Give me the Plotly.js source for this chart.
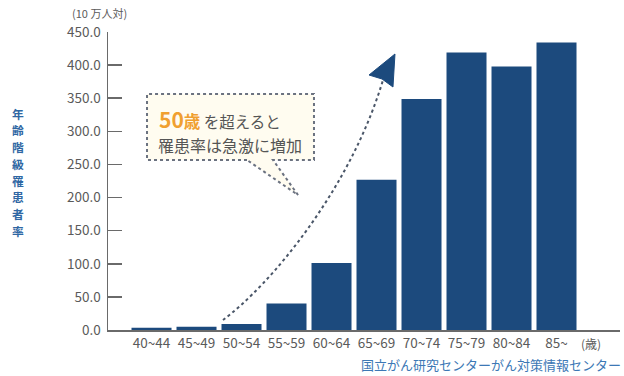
<!DOCTYPE html>
<html>
<head>
<meta charset="utf-8">
<script src="https://cdn.plot.ly/plotly-3.0.1.min.js"></script>
<style>html,body{margin:0;padding:0;background:#fff;}#chart{width:624px;height:376px;}</style>
</head>
<body>
<div id="chart"></div>
<script>
// Data
const categories = ['40~44','45~49','50~54','55~59','60~64','65~69','70~74','75~79','80~84','85~'];
const rates = [3.5, 5, 9, 40, 101, 227, 349, 419, 398, 434];
const yTickVals = [0, 50, 100, 150, 200, 250, 300, 350, 400, 450];
const yTickText = ['0.0','50.0','100.0','150.0','200.0','250.0','300.0','350.0','400.0','450.0'];
const yTitleChars = ['年','齢','階','級','罹','患','者','率'];

// Layout helpers (pixel -> paper)
const L = 108, R = 620, T = 32, B = 330;
const px = x => (x - L) / (R - L);
const py = y => (B - y) / (B - T);
const P = (x, y) => px(x).toFixed(4) + ',' + py(y).toFixed(4);

const JP = '"Noto Sans CJK JP", "Noto Sans", sans-serif';
const grey = '#5a5a5a';

const trace = {
  type: 'bar',
  x: categories,
  y: rates,
  marker: {color: '#1c4a7d'},
  hoverinfo: 'skip'
};

const boxPath = 'M' + P(247,160) + ' L' + P(147,160) + ' L' + P(147,94) + ' L' + P(314,94) +
  ' L' + P(314,160) + ' L' + P(273,160) + ' L' + P(298,195) + ' Z';
const curvePath = 'M' + P(223,320) + ' C' + P(270,285) + ' ' + P(350,190) + ' ' + P(383,80);
const headPath = 'M' + P(395,54) + ' L' + P(369,75) + ' L' + P(382,79) + ' L' + P(393,87) + ' Z';

const annotations = [
  {xref: 'paper', yref: 'paper', x: px(99), y: py(13), xanchor: 'center', yanchor: 'middle', borderpad: 0,
   text: '(10 万人対)', showarrow: false, font: {family: JP, size: 11, color: grey}},
  {xref: 'paper', yref: 'paper', x: px(158), y: py(118.5), xanchor: 'left', yanchor: 'middle', borderpad: 0,
   text: '<span style="font-size:21px;color:#f0a030;font-weight:bold">50</span><span style="font-size:16.5px;color:#f0a030;font-weight:bold">歳</span><span style="font-size:15.5px"> を超えると</span>',
   showarrow: false, font: {family: JP, size: 15.5, color: '#555'}},
  {xref: 'paper', yref: 'paper', x: px(157), y: py(145), xanchor: 'left', yanchor: 'middle', borderpad: 0,
   text: '罹患率は急激に増加', showarrow: false, font: {family: JP, size: 16, color: '#555'}},
  {xref: 'paper', yref: 'paper', x: px(591), y: py(343), xanchor: 'center', yanchor: 'middle', borderpad: 0,
   text: '(歳)', showarrow: false, font: {family: JP, size: 12, color: grey}},
  {xref: 'paper', yref: 'paper', x: px(622), y: py(364), xanchor: 'right', yanchor: 'middle', borderpad: 0,
   text: '国立がん研究センターがん対策情報センター', showarrow: false,
   font: {family: JP, size: 13.0, color: '#3d78b5'}}
];
yTitleChars.forEach((c, i) => {
  annotations.push({xref: 'paper', yref: 'paper', x: px(18), y: py(113 + i * 16.8),
    xanchor: 'center', yanchor: 'middle', borderpad: 0, text: c, showarrow: false,
    font: {family: JP, size: 11.8, color: '#2f67a3', weight: 'bold'}});
});

const layout = {
  width: 624, height: 376,
  margin: {l: L, r: 624 - R, t: T, b: 376 - B},
  paper_bgcolor: '#fff', plot_bgcolor: '#fff',
  showlegend: false,
  bargap: 0.111,
  font: {family: JP, color: grey},
  xaxis: {
    type: 'category',
    range: [-0.967, 10.411],
    showline: true, linecolor: '#6a6a6a', linewidth: 1.5,
    ticks: '', showgrid: false, zeroline: false,
    tickfont: {family: JP, size: 13.5, color: grey},
    fixedrange: true
  },
  yaxis: {
    range: [0, 450],
    tickvals: yTickVals, ticktext: yTickText,
    ticks: 'inside', ticklen: 14, tickcolor: '#6a6a6a', tickwidth: 1.5,
    showline: true, linecolor: '#6a6a6a', linewidth: 1.5,
    showgrid: false, zeroline: false,
    ticklabelstandoff: 3,
    tickfont: {family: JP, size: 13.5, color: grey},
    fixedrange: true
  },
  shapes: [
    {type: 'path', xref: 'paper', yref: 'paper', path: boxPath,
     fillcolor: '#fffcf0', line: {color: '#6b7280', width: 2, dash: 'dot'}, layer: 'above'},
    {type: 'path', xref: 'paper', yref: 'paper', path: curvePath,
     line: {color: '#4a5668', width: 2, dash: 'dot'}, layer: 'above'},
    {type: 'path', xref: 'paper', yref: 'paper', path: headPath,
     fillcolor: '#1c4a7d', line: {color: '#1c4a7d', width: 1}, layer: 'above'}
  ],
  annotations: annotations
};

Plotly.newPlot('chart', [trace], layout, {displayModeBar: false, staticPlot: true});
</script>
</body>
</html>
